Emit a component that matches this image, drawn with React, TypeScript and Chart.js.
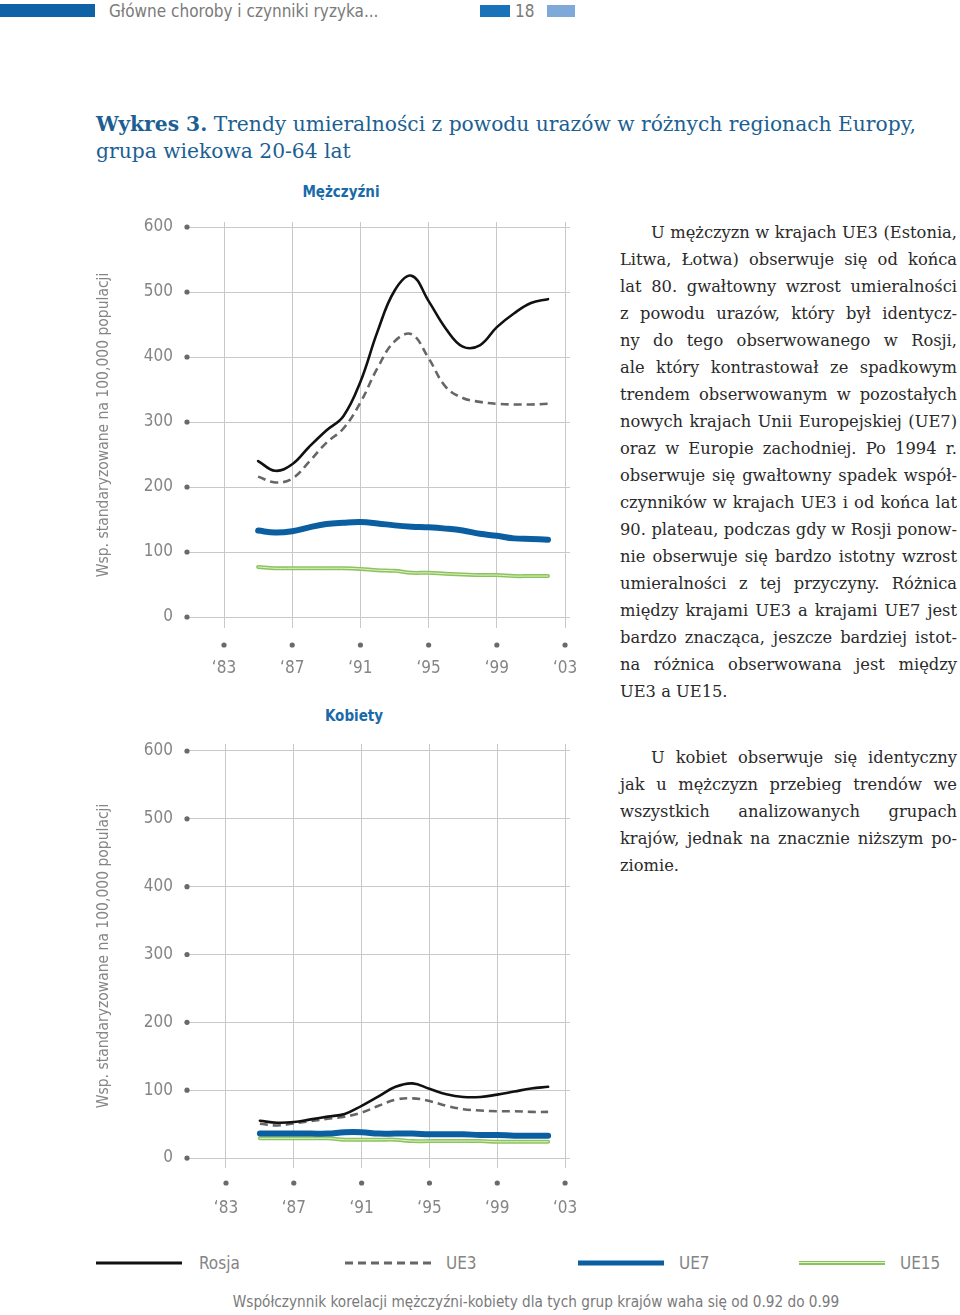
import React, { useEffect, useRef } from 'react';
import { Chart, registerables } from 'chart.js';

Chart.register(...registerables);

// ---------- DATA ----------
const years = [1985, 1986, 1987, 1988, 1989, 1990, 1991, 1992, 1993, 1994, 1995, 1996, 1997, 1998, 1999, 2000, 2001, 2002];
const xTickYears = [1983, 1987, 1991, 1995, 1999, 2003];
const yTickValues = [0, 100, 200, 300, 400, 500, 600];
const seriesNames = ['Rosja', 'UE3', 'UE7', 'UE15'];

const menRosja = [240, 225, 235, 262, 287, 309, 362, 439, 502, 525, 486, 444, 416, 418, 446, 467, 483, 489];
const menUE3 = [216, 207, 213, 239, 268, 290, 330, 383, 424, 435, 398, 354, 337, 331, 328, 327, 327, 328];
const menUE7 = [133, 130, 132, 138, 143, 145, 146, 144, 141, 139, 138, 136, 133, 128, 125, 121, 120, 119];
const menUE15 = [77, 75, 75, 75, 75, 75, 74, 72, 71, 68, 68, 66.5, 65.5, 64.5, 64.5, 63, 63, 63];

const womenRosja = [55, 52, 53, 57, 61, 65, 77, 91, 105, 110, 102, 94, 90, 90, 93.5, 98, 102.5, 105];
const womenUE3 = [50.5, 48, 51, 54.5, 58, 61, 67, 77, 86, 88, 84, 77, 72, 70, 69, 69, 68, 68];
const womenUE7 = [36, 36, 36, 36, 36, 38, 38, 36, 36, 36, 35, 35, 35, 34, 34, 33, 33, 33];
const womenUE15 = [29, 29, 29, 29, 29, 27, 27, 27, 27, 25, 25, 25, 25, 25, 24, 24, 24, 24];

const menTitle = 'Mężczyźni';
const womenTitle = 'Kobiety';
const yAxisTitle = 'Wsp. standaryzowane na 100,000 populacji';

// ---------- STYLE ----------
const COND = "'DejaVu Sans Condensed', 'Liberation Sans Narrow', 'Roboto Condensed', sans-serif";
const SERIF = "'DejaVu Serif', 'Liberation Serif', serif";
const GREY = '#858585';
const BLUE = '#1b5f93';
const C_ROSJA = '#111111';
const C_UE3 = '#666666';
const C_UE7 = '#0b5fa0';
const C_UE15 = '#8cc45c';
const C_UE15_HI = '#e2f0d2';

function buildDatasets(r: number[], u3: number[], u7: number[], u15: number[]) {
  const pts = (arr: number[]) => arr.map((v, i) => ({ x: years[i], y: v }));
  const base = { tension: 0.4, pointRadius: 0, fill: false, borderCapStyle: 'round' as const };
  return [
    { ...base, label: seriesNames[0], data: pts(r), borderColor: C_ROSJA, borderWidth: 2.6 },
    { ...base, label: seriesNames[1], data: pts(u3), borderColor: C_UE3, borderWidth: 2.6, borderDash: [8, 5], borderCapStyle: 'butt' as const },
    { ...base, label: seriesNames[2], data: pts(u7), borderColor: C_UE7, borderWidth: 6 },
    { ...base, label: seriesNames[3] + ' hi', data: pts(u15), borderColor: C_UE15_HI, borderWidth: 1 },
    { ...base, label: seriesNames[3], data: pts(u15), borderColor: C_UE15, borderWidth: 4 },
  ];
}

type ChartProps = {
  left: number; top: number; width: number; height: number;
  padTop: number; padRight: number; yWidth: number; xHeight: number;
  yMin: number; yMax: number; xMin: number; xMax: number;
  dotOffset: number;
  series: number[][];
};

function LineChart(p: ChartProps) {
  const ref = useRef<HTMLCanvasElement | null>(null);
  useEffect(() => {
    if (!ref.current) return;
    const dots = {
      id: 'axisDots',
      afterDraw(chart: any) {
        const { ctx, chartArea, scales } = chart;
        ctx.save();
        ctx.fillStyle = '#6a6a6a';
        scales.y.ticks.forEach((t: any) => {
          const y = scales.y.getPixelForValue(t.value);
          ctx.beginPath();
          ctx.arc(chartArea.left, y, 2.6, 0, Math.PI * 2);
          ctx.fill();
        });
        scales.x.ticks.forEach((t: any) => {
          const x = scales.x.getPixelForValue(t.value);
          ctx.beginPath();
          ctx.arc(x, chartArea.bottom + p.dotOffset, 2.6, 0, Math.PI * 2);
          ctx.fill();
        });
        ctx.restore();
      },
    };
    const chart = new Chart(ref.current, {
      type: 'line',
      data: { datasets: buildDatasets(p.series[0], p.series[1], p.series[2], p.series[3]) as any },
      options: {
        animation: false,
        responsive: false,
        maintainAspectRatio: false,
        layout: { padding: { top: p.padTop, right: p.padRight, left: 0, bottom: 0 } },
        plugins: { legend: { display: false }, tooltip: { enabled: false }, title: { display: false } },
        scales: {
          x: {
            type: 'linear',
            min: p.xMin,
            max: p.xMax,
            afterBuildTicks: (s: any) => { s.ticks = xTickYears.map((v) => ({ value: v })); },
            afterFit: (s: any) => { s.height = p.xHeight; s.paddingLeft = 0; s.paddingRight = 0; },
            ticks: {
              autoSkip: false,
              maxRotation: 0,
              padding: 30,
              color: GREY,
              font: { family: COND, size: 17 },
              callback: (v: any) => '\u2018' + String(v).slice(2),
            },
            grid: { color: '#c9c9c9', lineWidth: 1, drawTicks: false },
            border: { display: false },
          },
          y: {
            type: 'linear',
            min: p.yMin,
            max: p.yMax,
            afterBuildTicks: (s: any) => { s.ticks = yTickValues.map((v) => ({ value: v })); },
            afterFit: (s: any) => { s.width = p.yWidth; s.paddingTop = 0; s.paddingBottom = 0; },
            ticks: {
              padding: 14,
              color: GREY,
              font: { family: COND, size: 17 },
              callback: (v: any) => String(v),
            },
            grid: { color: '#c9c9c9', lineWidth: 1, drawTicks: false },
            border: { display: false },
            title: {
              display: true,
              text: yAxisTitle,
              color: GREY,
              font: { family: COND, size: 15.5 },
              padding: { top: 5, bottom: 0 },
            },
          },
        },
      },
      plugins: [dots],
    } as any);
    return () => chart.destroy();
  }, []);
  return (
    <canvas
      ref={ref}
      width={p.width}
      height={p.height}
      style={{ position: 'absolute', left: p.left, top: p.top, width: p.width, height: p.height }}
    />
  );
}

const abs = (left: number, top: number, extra: React.CSSProperties = {}): React.CSSProperties => ({
  position: 'absolute', left, top, ...extra,
});

const para1 = [
  'U mężczyzn w krajach UE3 (Estonia,',
  'Litwa, Łotwa) obserwuje się od końca',
  'lat 80. gwałtowny wzrost umieralności',
  'z powodu urazów, który był identycz-',
  'ny do tego obserwowanego w Rosji,',
  'ale który kontrastował ze spadkowym',
  'trendem obserwowanym w pozostałych',
  'nowych krajach Unii Europejskiej (UE7)',
  'oraz w Europie zachodniej. Po 1994 r.',
  'obserwuje się gwałtowny spadek współ-',
  'czynników w krajach UE3 i od końca lat',
  '90. plateau, podczas gdy w Rosji ponow-',
  'nie obserwuje się bardzo istotny wzrost',
  'umieralności z tej przyczyny. Różnica',
  'między krajami UE3 a krajami UE7 jest',
  'bardzo znacząca, jeszcze bardziej istot-',
  'na różnica obserwowana jest między',
  'UE3 a UE15.',
];
const para2 = [
  'U kobiet obserwuje się identyczny',
  'jak u mężczyzn przebieg trendów we',
  'wszystkich analizowanych grupach',
  'krajów, jednak na znacznie niższym po-',
  'ziomie.',
];

function Paragraph({ lines, top }: { lines: string[]; top: number }) {
  return (
    <div style={abs(620, top, { width: 337, fontFamily: SERIF, fontSize: 16.3, lineHeight: '27px', color: '#2a2a2a' })}>
      {lines.map((l, i) => {
        const last = i === lines.length - 1;
        return (
          <div
            key={i}
            style={{
              whiteSpace: 'nowrap',
              textAlign: last ? 'left' : 'justify',
              textAlignLast: last ? 'left' : 'justify',
              paddingLeft: i === 0 ? 31 : 0,
              height: 27,
              overflow: 'visible',
            } as React.CSSProperties}
          >
            {l}
          </div>
        );
      })}
    </div>
  );
}

function LegendItem({ x, labelX, label, swatch }: { x: number; labelX: number; label: string; swatch: React.CSSProperties }) {
  return (
    <>
      <div style={abs(x, 1263, { width: 86, transform: 'translateY(-50%)', ...swatch })} />
      <div style={abs(labelX, 1252, { fontFamily: COND, fontSize: 17, color: GREY, lineHeight: '22px' })}>{label}</div>
    </>
  );
}

export default function App() {
  useEffect(() => {
    document.body.style.margin = '0';
  }, []);
  return (
    <div style={{ position: 'absolute', left: 0, top: 0, width: 960, height: 1315, background: '#fff', overflow: 'hidden' }}>
      {/* header */}
      <div style={abs(0, 4, { width: 95, height: 13, background: '#0f62a6' })} />
      <div style={abs(109, 0, { fontFamily: COND, fontSize: 17, color: '#7a7a7a', lineHeight: '22px' })}>Główne choroby i czynniki ryzyka...</div>
      <div style={abs(480, 5, { width: 30, height: 12, background: '#1a72b8' })} />
      <div style={abs(515, 0, { fontFamily: COND, fontSize: 17, color: '#7a7a7a', lineHeight: '22px' })}>18</div>
      <div style={abs(547, 5, { width: 28, height: 12, background: '#7fa9d8' })} />

      {/* title */}
      <div style={abs(96, 111, { fontFamily: SERIF, fontSize: 20.25, lineHeight: '27px', color: BLUE, whiteSpace: 'nowrap' })}>
        <div><b>Wykres 3.</b> Trendy umieralności z powodu urazów w różnych regionach Europy,</div>
        <div>grupa wiekowa 20-64 lat</div>
      </div>

      {/* chart titles */}
      <div style={abs(341, 192, { transform: 'translate(-50%, -50%)', fontFamily: COND, fontWeight: 'bold', fontSize: 15, color: '#1a6aa8', whiteSpace: 'nowrap' })}>{menTitle}</div>
      <div style={abs(354, 716, { transform: 'translate(-50%, -50%)', fontFamily: COND, fontWeight: 'bold', fontSize: 15, color: '#1a6aa8', whiteSpace: 'nowrap' })}>{womenTitle}</div>

      <LineChart
        left={90} top={200} width={490} height={490}
        padTop={22} padRight={10} yWidth={97} xHeight={62}
        yMin={-16.9} yMax={607.7} xMin={1980.83} xMax={2003.29}
        dotOffset={17}
        series={[menRosja, menUE3, menUE7, menUE15]}
      />
      <LineChart
        left={90} top={725} width={490} height={505}
        padTop={19} padRight={10} yWidth={97} xHeight={62}
        yMin={-14.7} yMax={610.3} xMin={1980.7} xMax={2003.29}
        dotOffset={15}
        series={[womenRosja, womenUE3, womenUE7, womenUE15]}
      />

      <Paragraph lines={para1} top={219} />
      <Paragraph lines={para2} top={744} />

      {/* legend */}
      <LegendItem x={96} labelX={199} label={seriesNames[0]} swatch={{ height: 3, background: C_ROSJA }} />
      <LegendItem x={345} labelX={446} label={seriesNames[1]} swatch={{ height: 3, background: `repeating-linear-gradient(90deg, ${C_UE3} 0 8px, transparent 8px 13px)` }} />
      <LegendItem x={578} labelX={679} label={seriesNames[2]} swatch={{ height: 5, background: C_UE7 }} />
      <LegendItem x={799} labelX={900} label={seriesNames[3]} swatch={{ height: 4, background: `linear-gradient(180deg, ${C_UE15} 0 1.5px, ${C_UE15_HI} 1.5px 2.5px, ${C_UE15} 2.5px 4px)` }} />

      {/* footer */}
      <div style={abs(536, 1302, { transform: 'translate(-50%, -50%)', fontFamily: COND, fontSize: 15.2, color: '#7a7a7a', whiteSpace: 'nowrap' })}>
        Współczynnik korelacji mężczyźni-kobiety dla tych grup krajów waha się od 0.92 do 0.99
      </div>
    </div>
  );
}
